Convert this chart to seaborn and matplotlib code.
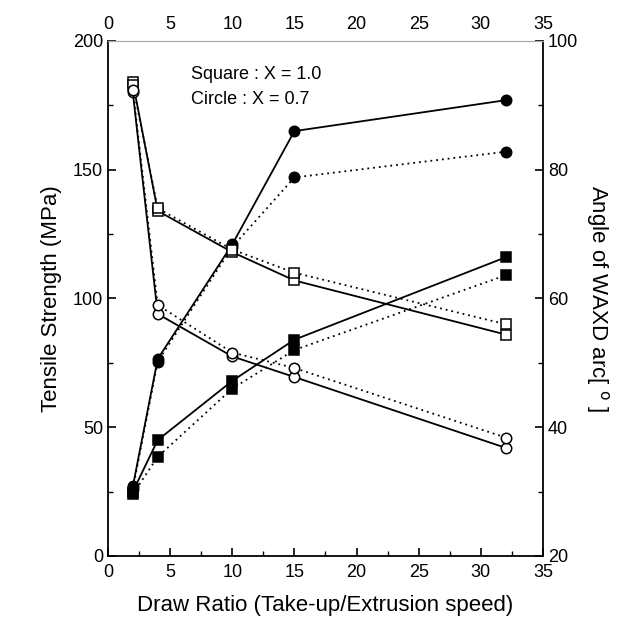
import matplotlib
matplotlib.use("Agg")
import matplotlib.pyplot as plt
import seaborn as sns
import numpy as np
from matplotlib.ticker import MultipleLocator

sns.set_style("ticks")
plt.rcParams['font.family'] = ['Liberation Sans', 'DejaVu Sans']
plt.rcParams.update({'text.color': 'black', 'axes.labelcolor': 'black',
                     'xtick.color': 'black', 'ytick.color': 'black',
                     'axes.edgecolor': 'black'})

draw_ratio = [2, 4, 10, 15, 32]

# Tensile strength (left axis, MPa)
ts_circle_solid = [27, 76.5, 121, 165, 177]
ts_circle_dotted = [26, 75.5, 120, 147, 157]
ts_square_solid = [25, 45, 68, 84, 116]
ts_square_dotted = [24, 38.5, 65, 80, 109]

# WAXD arc angle (right axis, degrees)
ang_square_solid = [93.6, 73.6, 67.2, 62.8, 54.4]
ang_square_dotted = [93.2, 74.0, 67.6, 64.0, 56.0]
ang_circle_solid = [92.0, 57.6, 51.0, 47.8, 36.8]
ang_circle_dotted = [92.4, 59.0, 51.6, 49.2, 38.4]

x_ticks = [0, 5, 10, 15, 20, 25, 30, 35]
left_ticks = [0, 50, 100, 150, 200]
right_ticks = [20, 40, 60, 80, 100]

fig = plt.figure(figsize=(6.37, 6.19), dpi=100)
ax = fig.add_axes([0.1695, 0.1018, 0.6829, 0.832])
ax2 = ax.twinx()

dot = (0, (1, 2.2))
lw = 1.3

def draw(a, y, marker, filled, ls, ms):
    sns.lineplot(x=draw_ratio, y=y, ax=a, color='black', linestyle=ls, linewidth=lw,
                 marker=marker, markersize=ms,
                 markerfacecolor='black' if filled else 'white',
                 markeredgecolor='black', markeredgewidth=1.1, legend=False)

draw(ax, ts_circle_solid, 'o', True, '-', 7.5)
draw(ax, ts_circle_dotted, 'o', True, dot, 7.5)
draw(ax, ts_square_solid, 's', True, '-', 6.5)
draw(ax, ts_square_dotted, 's', True, dot, 6.5)
draw(ax2, ang_square_solid, 's', False, '-', 6.5)
draw(ax2, ang_square_dotted, 's', False, dot, 6.5)
draw(ax2, ang_circle_solid, 'o', False, '-', 7.5)
draw(ax2, ang_circle_dotted, 'o', False, dot, 7.5)

ax.set_xlim(0, 35)
ax.set_ylim(0, 200)
ax2.set_ylim(20, 100)
ax.set_xticks(x_ticks)
ax.set_yticks(left_ticks)
ax2.set_yticks(right_ticks)
ax.xaxis.set_minor_locator(MultipleLocator(2.5))
ax.yaxis.set_minor_locator(MultipleLocator(25))
ax2.yaxis.set_minor_locator(MultipleLocator(10))

ax.tick_params(axis='both', which='major', direction='in', length=6, width=1.2, labelsize=13)
ax.tick_params(axis='both', which='minor', direction='in', length=3.5, width=1.0)
ax.tick_params(axis='x', labeltop=True, which='major', pad=6)
ax.tick_params(axis='x', which='major', top=False)
ax.tick_params(axis='x', which='minor', top=False)
ax2.tick_params(axis='y', which='major', direction='in', length=6, width=1.2, labelsize=13)
ax2.tick_params(axis='y', which='minor', direction='in', length=3.5, width=1.0)

for s in ['left', 'bottom']:
    ax.spines[s].set_linewidth(1.3)
ax2.spines['right'].set_linewidth(1.3)
ax2.spines['top'].set_color('#aaaaaa')
ax2.spines['top'].set_linewidth(0.8)
ax.spines['top'].set_color('#aaaaaa')
ax.spines['top'].set_linewidth(0.8)
ax.spines['right'].set_visible(False)
ax2.spines['left'].set_visible(False)
ax2.spines['bottom'].set_visible(False)

ax.set_xlabel("Draw Ratio (Take-up/Extrusion speed)", fontsize=16, labelpad=10)
ax.set_ylabel("Tensile Strength (MPa)", fontsize=16, labelpad=8)
ax2.set_ylabel("Angle of WAXD arc[ $^{\\mathrm{o}}$ ]", fontsize=16, rotation=270, labelpad=24)

ax.text(0.19, 0.935, "Square : X = 1.0", transform=ax.transAxes, fontsize=13, va='center')
ax.text(0.19, 0.887, "Circle : X = 0.7", transform=ax.transAxes, fontsize=13, va='center')

fig.savefig("out.png", dpi=100)
